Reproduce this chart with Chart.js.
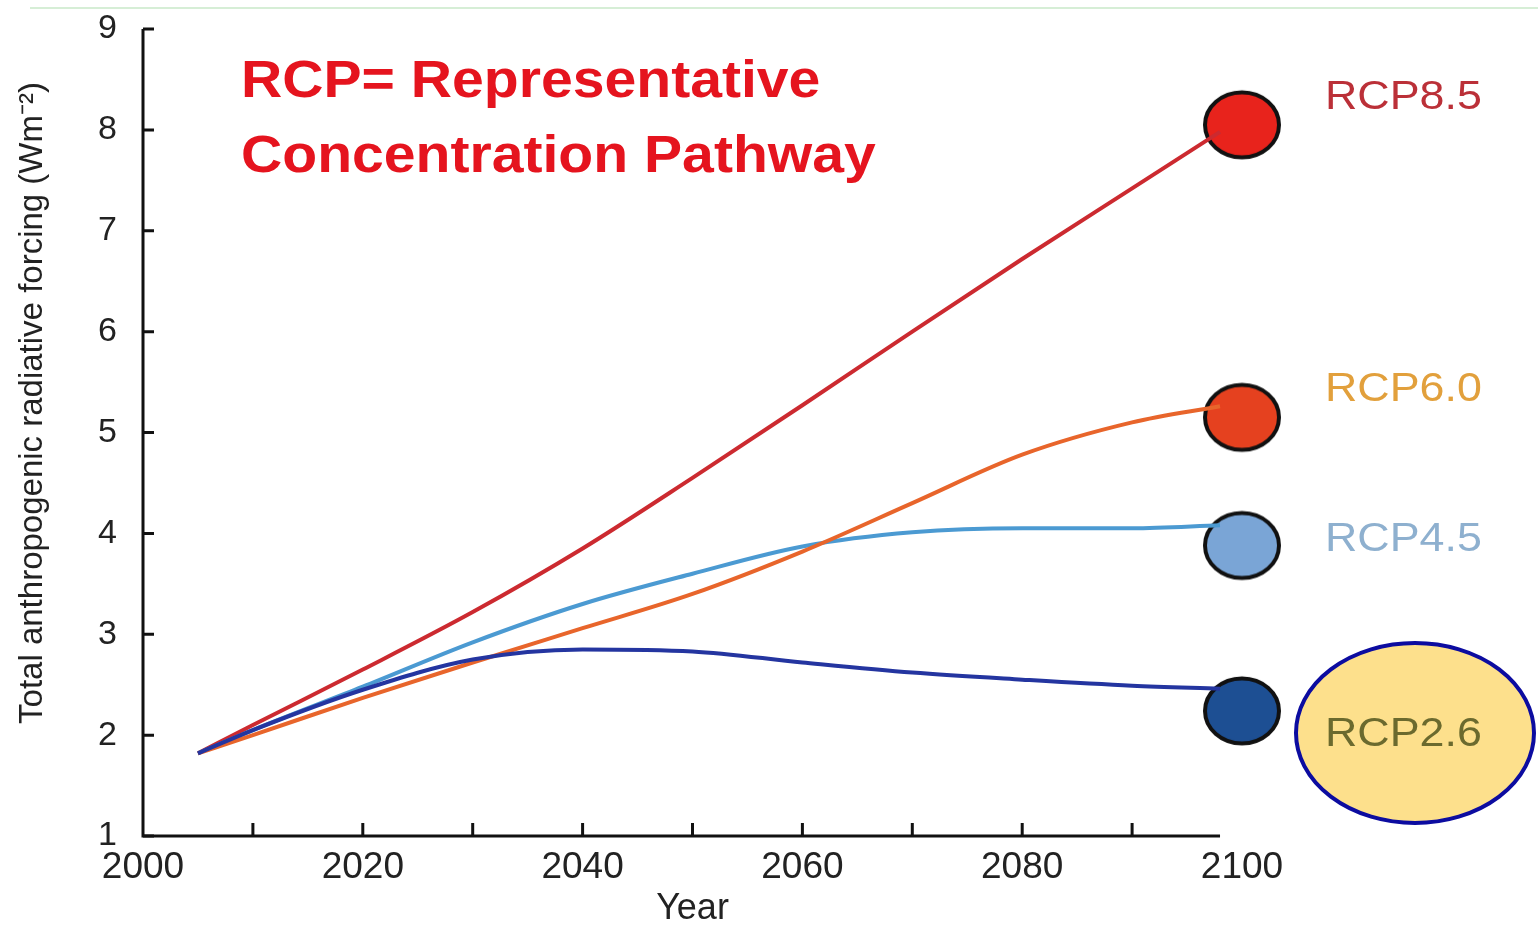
<!DOCTYPE html>
<html>
<head>
<meta charset="utf-8">
<title>RCP radiative forcing</title>
<script src="https://cdn.jsdelivr.net/npm/chart.js@4"></script>
<style>
  body { margin: 0; background: #fff; }
  #wrap { width: 1538px; height: 925px; }
</style>
</head>
<body>
<div id="wrap"><canvas id="rcpChart" width="1538" height="925"></canvas></div>
<script>
/* ===============================
   DATA
================================ */
const years = [2005, 2010, 2020, 2030, 2040, 2050, 2060, 2070, 2080, 2090, 2098];

const rcp85 = [1.82, 2.1, 2.65, 3.22, 3.85, 4.55, 5.27, 6.0, 6.72, 7.42, 7.98];
const rcp60 = [1.82, 2.0, 2.37, 2.72, 3.06, 3.4, 3.82, 4.3, 4.78, 5.1, 5.26];
const rcp45 = [1.82, 2.05, 2.48, 2.92, 3.3, 3.6, 3.87, 4.01, 4.05, 4.05, 4.08];
const rcp26 = [1.82, 2.05, 2.45, 2.75, 2.85, 2.83, 2.72, 2.62, 2.55, 2.49, 2.46];

// end-of-century markers
const markerYear = 2100;
const markerValues = [8.05, 5.15, 3.88, 2.24];
const markerNames = ["RCP8.5", "RCP6.0", "RCP4.5", "RCP2.6"];

const xTickStep = 20;
const xMinorStep = 10;
const yTicks = [1, 2, 3, 4, 5, 6, 7, 8, 9];

const FONT = "'Liberation Sans', Arial, Helvetica, sans-serif";
const STRETCH = 1.12; // the source picture is a bit wider than tall

function pts(vals) {
  return vals.map((v, i) => ({ x: years[i], y: v }));
}

// ellipse marker images
function ellipseMarker(fill) {
  const c = document.createElement("canvas");
  c.width = 84;
  c.height = 76;
  const g = c.getContext("2d");
  g.beginPath();
  g.ellipse(42, 38, 37, 32.5, 0, 0, Math.PI * 2);
  g.fillStyle = fill;
  g.fill();
  g.lineWidth = 4;
  g.strokeStyle = "#111";
  g.stroke();
  return c;
}

const markerImgs = [
  ellipseMarker("#e8231c"),
  ellipseMarker("#e5411f"),
  ellipseMarker("#7aa5d6"),
  ellipseMarker("#1d4f93"),
];

// text drawn a little wider, like the source
function wideText(ctx, txt, x, y) {
  ctx.save();
  ctx.translate(x, y);
  ctx.scale(STRETCH, 1);
  ctx.fillText(txt, 0, 0);
  ctx.restore();
}

/* ===============================
   AXES, LABELS, ANNOTATIONS
================================ */
const decor = {
  id: "decor",
  beforeDraw(chart) {
    const ctx = chart.ctx;
    ctx.save();
    ctx.fillStyle = "#fff";
    ctx.fillRect(0, 0, chart.width, chart.height);
    // faint green rule at the very top
    ctx.strokeStyle = "#d6eed6";
    ctx.lineWidth = 2;
    ctx.beginPath();
    ctx.moveTo(30, 8);
    ctx.lineTo(chart.width, 8);
    ctx.stroke();
    ctx.restore();
  },
  beforeDatasetsDraw(chart) {
    const ctx = chart.ctx;
    const x = chart.scales.x;
    const y = chart.scales.y;
    ctx.save();
    ctx.strokeStyle = "#111";
    ctx.lineWidth = 3;

    const x0 = x.getPixelForValue(2000);
    const y0 = y.getPixelForValue(1);
    ctx.beginPath();
    ctx.moveTo(x0, y.getPixelForValue(9));
    ctx.lineTo(x0, y0);
    ctx.lineTo(x.getPixelForValue(2098), y0);
    ctx.stroke();

    // inward tick marks
    ctx.beginPath();
    yTicks.forEach((v) => {
      const py = y.getPixelForValue(v);
      ctx.moveTo(x0, py);
      ctx.lineTo(x0 + 11, py);
    });
    for (let yr = 2000 + xMinorStep; yr < 2100; yr += xMinorStep) {
      const px = x.getPixelForValue(yr);
      ctx.moveTo(px, y0);
      ctx.lineTo(px, y0 - 13);
    }
    ctx.stroke();
    ctx.restore();
  },
  afterDraw(chart) {
    const ctx = chart.ctx;
    ctx.save();

    // y axis title
    ctx.translate(33, 403);
    ctx.rotate(-Math.PI / 2);
    ctx.fillStyle = "#222";
    ctx.font = "33px " + FONT;
    ctx.textAlign = "center";
    ctx.textBaseline = "middle";
    ctx.fillText("Total anthropogenic radiative forcing (Wm\u207B\u00B2)", 0, 0);
    ctx.setTransform(1, 0, 0, 1, 0, 0);

    // big red heading
    ctx.fillStyle = "#e5141e";
    ctx.font = "bold 51px " + FONT;
    ctx.textAlign = "left";
    ctx.textBaseline = "alphabetic";
    wideText(ctx, "RCP= Representative", 241, 97);
    wideText(ctx, "Concentration Pathway", 241, 172);

    // highlight ellipse behind RCP2.6
    ctx.beginPath();
    ctx.ellipse(1415, 733, 119, 90, 0, 0, Math.PI * 2);
    ctx.fillStyle = "#fde08c";
    ctx.fill();
    ctx.lineWidth = 4;
    ctx.strokeStyle = "#0c0ca0";
    ctx.stroke();

    // scenario labels
    const labelColors = ["#bb3038", "#e2a03c", "#8eb0cf", "#6b6a2e"];
    const labelY = [98, 390, 540, 735];
    ctx.font = "40px " + FONT;
    ctx.textBaseline = "middle";
    markerNames.forEach((n, i) => {
      ctx.fillStyle = labelColors[i];
      wideText(ctx, n, 1325, labelY[i]);
    });
    ctx.restore();
  },
};

/* ===============================
   CHART
================================ */
const lineStyle = (data, color) => ({
  type: "line",
  data: pts(data),
  borderColor: color,
  borderWidth: 4,
  pointRadius: 0,
  cubicInterpolationMode: "monotone",
  fill: false,
});

new Chart(document.getElementById("rcpChart"), {
  data: {
    datasets: [
      lineStyle(rcp26, "#2435a0"),
      lineStyle(rcp60, "#e8652b"),
      lineStyle(rcp45, "#4b9ad2"),
      lineStyle(rcp85, "#cc2a30"),
      {
        type: "scatter",
        data: markerValues.map((v) => ({ x: markerYear, y: v })),
        pointStyle: markerImgs,
        pointRadius: 37,
        clip: false,
      },
    ],
  },
  options: {
    responsive: false,
    animation: false,
    events: [],
    layout: { autoPadding: false, padding: { top: 29, right: 296, bottom: 0, left: 0 } },
    plugins: {
      legend: { display: false },
      tooltip: { enabled: false },
    },
    scales: {
      x: {
        type: "linear",
        min: 2000,
        max: 2100,
        border: { display: false },
        grid: { display: false, drawTicks: false },
        ticks: {
          stepSize: xTickStep,
          padding: 10,
          color: "#222",
          font: { family: FONT, size: 37 },
          maxRotation: 0,
          callback: (v) => String(v),
        },
        title: {
          display: true,
          text: "Year",
          color: "#222",
          font: { family: FONT, size: 36 },
          padding: { top: 0, bottom: -6 },
        },
        afterFit(scale) {
          scale.height = 89;
          scale.paddingLeft = 0;
          scale.paddingRight = 0;
        },
      },
      y: {
        min: 1,
        max: 9,
        border: { display: false },
        grid: { display: false, drawTicks: false },
        ticks: {
          stepSize: 1,
          padding: 26,
          color: "#222",
          font: { family: FONT, size: 34 },
        },
        afterFit(scale) {
          scale.width = 143;
          scale.paddingTop = 0;
          scale.paddingBottom = 0;
        },
      },
    },
  },
  plugins: [decor],
});
</script>
</body>
</html>
